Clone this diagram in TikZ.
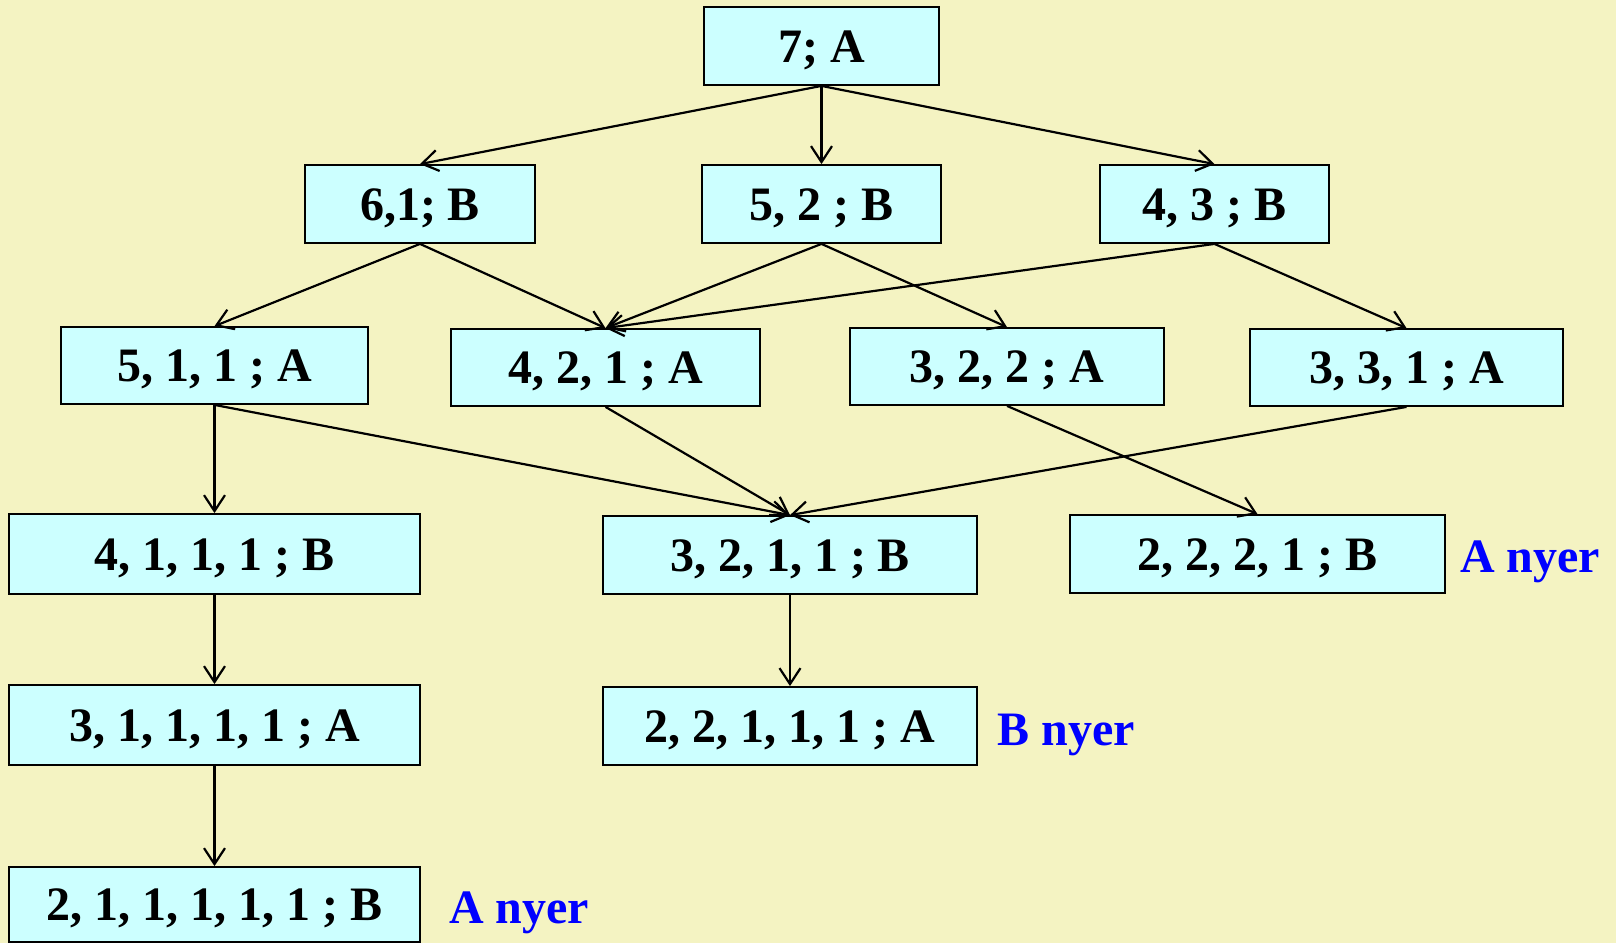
\documentclass[tikz,border=0pt]{standalone}
\usepackage{fontspec}
\setmainfont{Liberation Serif}
\usetikzlibrary{arrows.meta}
\definecolor{bg}{HTML}{F4F3C2}
\definecolor{boxfill}{HTML}{CCFFFF}
\definecolor{winblue}{HTML}{0000FF}
\tikzset{
  box/.style={draw=black, line width=1.8pt, fill=boxfill, inner sep=0pt,
    text height=32pt, text depth=0pt,
    font=\fontsize{48}{54}\selectfont\bfseries},
  conn/.style={line width=2.2pt, -{Straight Barb[length=16pt,width=21pt,line width=2.2pt]}},
  win/.style={text=winblue, inner sep=0pt, text height=32pt, text depth=0pt,
    font=\fontsize{48}{54}\selectfont\bfseries}
}
\begin{document}
\begin{tikzpicture}[x=1pt,y=-1pt]
\fill[bg] (0,0) rectangle (1616,943);
\useasboundingbox (0,0) rectangle (1616,943);
\node[box, minimum width=235pt, minimum height=78pt] (a) at (821.5,46) {7; A};
\node[box, minimum width=230pt, minimum height=78pt] (b1) at (420,204) {6,1; B};
\node[box, minimum width=239pt, minimum height=78pt] (b2) at (821.5,204) {5, 2 ; B};
\node[box, minimum width=229pt, minimum height=78pt] (b3) at (1214.5,204) {4, 3 ; B};
\node[box, minimum width=307pt, minimum height=77pt] (c1) at (214.5,365.5) {5, 1, 1 ; A};
\node[box, minimum width=309pt, minimum height=77pt] (c2) at (605.5,367.5) {4, 2, 1 ; A};
\node[box, minimum width=314pt, minimum height=77pt] (c3) at (1007,366.5) {3, 2, 2 ; A};
\node[box, minimum width=313pt, minimum height=77pt] (c4) at (1406.5,367.5) {3, 3, 1 ; A};
\node[box, minimum width=411pt, minimum height=80pt] (d1) at (214.5,554) {4, 1, 1, 1 ; B};
\node[box, minimum width=374pt, minimum height=78pt] (d2) at (790,555) {3, 2, 1, 1 ; B};
\node[box, minimum width=375pt, minimum height=78pt] (d3) at (1257.5,554) {2, 2, 2, 1 ; B};
\node[box, minimum width=411pt, minimum height=80pt] (e1) at (214.5,725) {3, 1, 1, 1, 1 ; A};
\node[box, minimum width=374pt, minimum height=78pt] (e2) at (790,726) {2, 2, 1, 1, 1 ; A};
\node[box, minimum width=411pt, minimum height=75pt] (f1) at (214.5,904.5) {2, 1, 1, 1, 1, 1 ; B};
\node[win] (w1) at (1530,556) {A nyer};
\node[win] (w2) at (1066,729) {B nyer};
\node[win] (w3) at (519,907) {A nyer};
\draw[conn] (a.south) -- (b1.north);
\draw[conn] (a.south) -- (b2.north);
\draw[conn] (a.south) -- (b3.north);
\draw[conn] (b1.south) -- (c1.north);
\draw[conn] (b1.south) -- (c2.north);
\draw[conn] (b2.south) -- (c2.north);
\draw[conn] (b2.south) -- (c3.north);
\draw[conn] (b3.south) -- (c2.north);
\draw[conn] (b3.south) -- (c4.north);
\draw[conn] (c1.south) -- (d1.north);
\draw[conn] (c1.south) -- (d2.north);
\draw[conn] (c2.south) -- (d2.north);
\draw[conn] (c3.south) -- (d3.north);
\draw[conn] (c4.south) -- (d2.north);
\draw[conn] (d1.south) -- (e1.north);
\draw[conn] (e1.south) -- (f1.north);
\draw[conn] (d2.south) -- (e2.north);
\end{tikzpicture}
\end{document}
